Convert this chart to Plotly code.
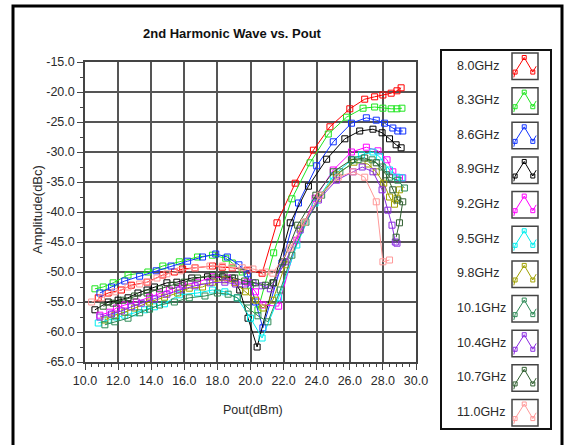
import plotly.graph_objects as go

# ---------------- data ----------------
freqs = ["8.0GHz", "8.3GHz", "8.6GHz", "8.9GHz", "9.2GHz", "9.5GHz",
         "9.8GHz", "10.1GHz", "10.4GHz", "10.7GHz", "11.0GHz"]
colors = ["#FF0000", "#1EE61E", "#1133FF", "#000000", "#FF00FF", "#00EEEE",
          "#A0A000", "#2E8B57", "#8A2BE2", "#2F5F2F", "#FF9999"]

x_80 = [10.8, 11.4, 12.2, 12.8, 13.75, 14.7, 15.4, 15.9, 16.65, 17.7, 18.3, 18.9, 19.8, 20.7,
        21.6, 22.7, 23.8, 24.8, 26.0, 26.9, 27.5, 28.0, 28.5, 28.85, 29.1]
y_80 = [-54.3, -53.5, -53.0, -52.2, -51.7, -50.5, -50.0, -49.5, -49.3, -49.0, -49.2, -49.3, -49.7, -50.2,
        -41.8, -35.2, -29.7, -25.8, -22.8, -21.2, -20.8, -20.5, -20.2, -19.8, -19.3]

x_83 = [10.6, 11.1, 11.7, 12.6, 13.8, 14.7, 15.7, 16.8, 17.7, 18.5, 18.9, 19.5, 20.0, 20.45,
        21.4, 22.5, 23.6, 24.7, 25.8, 26.8, 27.5, 28.0, 28.5, 28.85, 29.15]
y_83 = [-52.8, -52.5, -51.8, -50.5, -50.0, -49.0, -48.3, -47.5, -47.2, -47.7, -48.5, -50.0, -52.2, -56.3,
        -46.8, -37.8, -31.8, -27.0, -24.2, -22.7, -22.5, -22.7, -22.8, -22.8, -22.7]

x_86 = [10.9, 11.6, 12.4, 13.3, 14.3, 15.2, 16.2, 17.1, 17.9, 18.6, 19.3, 19.8, 20.3, 20.75,
        21.9, 22.9, 24.0, 25.0, 26.1, 27.0, 27.6, 28.1, 28.6, 28.9, 29.2]
y_86 = [-53.5, -52.5, -51.5, -50.7, -49.8, -49.0, -48.2, -47.5, -47.0, -47.5, -48.8, -50.3, -55.0, -59.3,
        -48.5, -38.5, -32.3, -28.3, -25.2, -24.3, -24.7, -25.2, -26.0, -26.5, -26.5]

x_89 = [10.6, 11.4, 12.0, 12.6, 13.2, 13.75, 14.2, 14.95, 15.55, 16.45, 17.4, 18.3, 18.9, 19.35, 19.85, 20.4,
        21.4, 22.4, 23.5, 24.6, 25.7, 26.6, 27.4, 27.95, 28.4, 28.8, 29.1]
y_89 = [-56.3, -55.0, -54.7, -54.3, -53.5, -53.0, -52.5, -51.8, -51.7, -51.0, -50.8, -50.8, -51.0, -53.0, -57.7, -62.5,
        -51.8, -41.8, -35.7, -31.2, -27.8, -26.5, -26.2, -26.8, -27.8, -28.8, -29.3]

x_92 = [10.9, 11.5, 11.9, 12.4, 13.1, 13.9, 14.5, 15.1, 15.9, 16.8, 17.7, 18.6, 19.1, 19.8, 20.3, 20.75,
        21.7, 22.8, 23.9, 25.0, 26.1, 27.0, 27.7, 28.25, 28.6, 29.0, 29.2]
y_92 = [-57.2, -56.7, -56.0, -55.5, -55.0, -54.2, -53.5, -53.0, -52.2, -51.7, -50.8, -51.0, -51.7, -51.7, -53.3, -55.5,
        -55.7, -44.7, -37.7, -33.0, -30.0, -29.2, -29.8, -31.3, -33.3, -34.3, -34.3]

x_95 = [10.8, 11.4, 11.9, 12.4, 13.0, 13.6, 14.2, 14.8, 15.7, 16.8, 17.7, 18.45, 19.2, 20.0, 20.7,
        21.7, 22.8, 23.9, 25.0, 26.1, 26.7, 27.4, 27.8, 28.4, 28.85, 29.15]
y_95 = [-58.5, -58.0, -57.5, -57.2, -56.8, -56.3, -55.8, -55.3, -53.8, -53.5, -53.0, -53.3, -54.3, -57.7, -61.0,
        -54.3, -45.5, -38.5, -34.0, -31.3, -30.5, -30.0, -30.8, -33.0, -34.2, -34.3]

x_98 = [11.2, 11.8, 12.4, 13.0, 13.9, 14.8, 15.6, 16.3, 17.1, 17.7, 18.45, 19.05, 19.7, 20.3, 20.75,
        21.35, 22.1, 23.0, 24.1, 25.2, 26.25, 27.1, 27.6, 28.05, 28.4, 28.7, 28.85, 29.0]
y_98 = [-58.0, -57.2, -56.7, -56.0, -55.0, -54.2, -53.5, -52.7, -52.5, -51.7, -51.3, -51.8, -53.3, -54.7, -56.0,
        -54.7, -48.8, -42.7, -37.7, -33.8, -31.7, -32.0, -33.3, -35.2, -37.5, -38.7, -37.7, -36.3]

x_101 = [11.2, 11.8, 12.6, 13.3, 13.9, 14.5, 15.4, 16.3, 17.25, 18.0, 18.65, 19.2, 19.85, 20.45, 21.05,
         21.8, 22.5, 23.35, 24.3, 25.4, 26.5, 27.35, 27.95, 28.4, 28.9, 29.3]
y_101 = [-58.8, -58.3, -57.7, -56.8, -56.2, -55.5, -55.0, -54.3, -54.0, -53.5, -53.7, -54.3, -56.0, -57.3, -58.3,
         -53.0, -47.2, -41.7, -37.2, -33.3, -31.3, -31.3, -32.5, -34.2, -34.7, -36.0]

x_104 = [10.9, 11.6, 12.2, 12.8, 13.4, 14.2, 14.95, 15.7, 16.65, 17.55, 18.45, 19.1, 19.7, 20.15, 20.7, 21.2,
         22.1, 23.0, 24.1, 25.2, 26.2, 26.75, 27.4, 27.95, 28.3, 28.55, 28.75, 28.85]
y_104 = [-57.5, -57.0, -56.5, -55.8, -55.2, -54.5, -53.7, -53.0, -52.3, -51.8, -51.7, -52.0, -52.0, -51.8, -52.3, -52.8,
         -48.3, -43.0, -38.0, -34.7, -33.3, -32.5, -33.3, -36.3, -39.7, -42.2, -45.0, -45.2]

x_107 = [11.1, 11.7, 12.3, 13.0, 13.75, 14.5, 15.25, 16.0, 16.8, 17.7, 18.4, 19.05, 19.65, 20.3, 20.9, 21.35,
         21.95, 22.85, 23.95, 25.0, 26.1, 26.9, 27.6, 28.2, 28.6, 28.9, 29.2, 29.0, 28.8]
y_107 = [-55.7, -55.2, -54.7, -54.0, -53.5, -52.8, -52.2, -51.7, -51.0, -50.5, -50.5, -51.0, -51.5, -51.8, -52.2, -51.8,
         -48.3, -42.2, -37.2, -33.3, -31.3, -31.0, -31.8, -33.8, -36.3, -38.0, -38.3, -41.8, -44.2]

x_110 = [10.4, 11.0, 11.8, 12.6, 13.3, 13.8, 14.35, 14.95, 15.75, 16.65, 17.55, 18.3, 18.9, 19.5, 20.15, 20.9, 21.35,
         22.4, 23.25, 24.2, 25.3, 26.2, 26.9, 27.6, 28.0, 28.4]
y_110 = [-55.0, -54.3, -53.3, -52.5, -52.0, -51.7, -51.0, -50.3, -49.8, -49.3, -49.0, -49.0, -49.2, -49.3, -49.5, -50.0, -50.2,
         -46.0, -41.7, -37.2, -34.2, -33.3, -34.2, -38.3, -48.3, -48.0]

series_x = [x_80, x_83, x_86, x_89, x_92, x_95, x_98, x_101, x_104, x_107, x_110]
series_y = [y_80, y_83, y_86, y_89, y_92, y_95, y_98, y_101, y_104, y_107, y_110]

x_ticks = [10.0, 12.0, 14.0, 16.0, 18.0, 20.0, 22.0, 24.0, 26.0, 28.0, 30.0]
y_ticks = [-15.0, -20.0, -25.0, -30.0, -35.0, -40.0, -45.0, -50.0, -55.0, -60.0, -65.0]

title_text = "2nd Harmonic Wave vs. Pout"
x_title = "Pout(dBm)"
y_title = "Amplitude(dBc)"

# ---------------- layout geometry ----------------
W, H = 569, 445
L, R, T, B = 85, 416, 62, 362   # plot area in pixels


def px(x):
    return (x - L) / (R - L)


def py(y):
    return (B - y) / (B - T)


FONT = "Liberation Sans"
TXT = "#2a2a2a"

fig = go.Figure()
for name, col, xs, ys in zip(freqs, colors, series_x, series_y):
    fig.add_trace(go.Scatter(
        x=xs, y=ys, mode="lines+markers", name=name,
        line=dict(color=col, width=1),
        marker=dict(symbol="square-open", size=6, color=col, line=dict(width=1, color=col)),
        showlegend=False, hoverinfo="skip",
    ))

shapes = []
annotations = []

# outer frame
shapes.append(dict(type="rect", xref="paper", yref="paper",
                   x0=px(13), x1=px(562), y0=py(460), y1=py(6),
                   line=dict(color="#000000", width=3), fillcolor="rgba(0,0,0,0)", layer="below"))

# legend box
shapes.append(dict(type="rect", xref="paper", yref="paper",
                   x0=px(441), x1=px(551), y0=py(429), y1=py(50),
                   line=dict(color="#111111", width=2), fillcolor="white"))

label_y0, label_dy = 65.5, 34.65
for i, (name, col) in enumerate(zip(freqs, colors)):
    cy = label_y0 + i * label_dy
    annotations.append(dict(xref="paper", yref="paper", x=px(455), y=py(cy),
                            xanchor="left", yanchor="middle", text=name, showarrow=False,
                            font=dict(family=FONT, size=12.5, color=TXT)))
    bx0, bx1 = 512, 538
    by0, by1 = cy - 12.5, cy + 14
    shapes.append(dict(type="rect", xref="paper", yref="paper",
                       x0=px(bx0), x1=px(bx1), y0=py(by1), y1=py(by0),
                       line=dict(color="#444444", width=1.5), fillcolor="white"))
    w, h = bx1 - bx0, by1 - by0
    pts = [(0.07, 0.92), (0.12, 0.72), (0.47, 0.17), (0.8, 0.72), (0.93, 0.5)]
    path = ""
    for k, (u, v) in enumerate(pts):
        path += ("M" if k == 0 else " L") + " %f,%f" % (px(bx0 + u * w), py(by0 + v * h))
    shapes.append(dict(type="path", xref="paper", yref="paper", path=path,
                       line=dict(color=col, width=1)))
    for (u, v) in [pts[1], pts[2], pts[3]]:
        cxp, cyp = bx0 + u * w, by0 + v * h
        shapes.append(dict(type="rect", xref="paper", yref="paper",
                           x0=px(cxp - 2), x1=px(cxp + 2), y0=py(cyp + 2), y1=py(cyp - 2),
                           line=dict(color=col, width=1), fillcolor="rgba(0,0,0,0)"))

# title and axis titles
annotations.append(dict(xref="paper", yref="paper", x=px(232), y=py(33),
                        xanchor="center", yanchor="middle", text="<b>%s</b>" % title_text,
                        showarrow=False, font=dict(family=FONT, size=13, color="#111111")))
annotations.append(dict(xref="paper", yref="paper", x=px(253), y=py(410),
                        xanchor="center", yanchor="middle", text=x_title,
                        showarrow=False, font=dict(family=FONT, size=12.5, color=TXT)))
annotations.append(dict(xref="paper", yref="paper", x=px(37), y=py(209),
                        xanchor="center", yanchor="middle", text=y_title, textangle=-90,
                        showarrow=False, font=dict(family=FONT, size=13, color=TXT)))

fig.update_layout(
    width=W, height=H,
    margin=dict(l=L, r=W - R, t=T, b=H - B, pad=0, autoexpand=False),
    paper_bgcolor="white", plot_bgcolor="white",
    shapes=shapes, annotations=annotations,
    showlegend=False, hovermode=False,
)
fig.update_xaxes(
    range=[10, 30], tickvals=x_ticks, ticktext=["%.1f" % v for v in x_ticks],
    automargin=False,
    showgrid=True, gridcolor="#555555", gridwidth=1.5,
    showline=True, linecolor="#444444", linewidth=1.5, mirror=True,
    ticks="outside", ticklen=6, tickcolor="#444444",
    minor=dict(dtick=0.4, tick0=10, ticks="outside", ticklen=3, tickcolor="#444444", showgrid=False),
    tickfont=dict(family=FONT, size=12.5, color=TXT), zeroline=False,
)
fig.update_yaxes(
    range=[-65, -15], tickvals=y_ticks, ticktext=["%.1f" % v for v in y_ticks],
    automargin=False,
    showgrid=True, gridcolor="#555555", gridwidth=1.5,
    showline=True, linecolor="#444444", linewidth=1.5, mirror=True,
    ticks="outside", ticklen=6, tickcolor="#444444",
    minor=dict(dtick=2.5, tick0=-65, ticks="outside", ticklen=3, tickcolor="#444444", showgrid=False),
    tickfont=dict(family=FONT, size=12.5, color=TXT), zeroline=False,
)

fig.write_html("out.html", config={"displayModeBar": False},
               post_script="document.body.style.margin='0';")
